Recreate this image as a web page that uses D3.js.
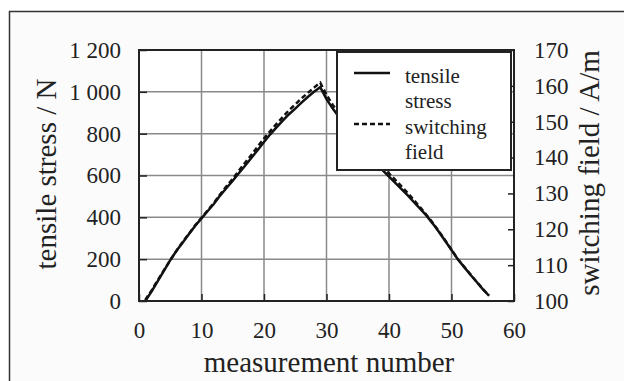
<!DOCTYPE html>
<html>
<head>
<meta charset="utf-8">
<script src="https://cdn.jsdelivr.net/npm/d3@7"></script>
<style>
  html, body { margin: 0; padding: 0; background: #ffffff; }
  svg { display: block; }
  text { font-family: "Liberation Serif", "Times New Roman", serif; fill: #222; }
</style>
</head>
<body>
<svg id="chart" width="624" height="381"></svg>
<script>
// measurement number 1..56
const measurement = d3.range(1, 57);

// tensile stress / N (left axis)
const tensileStress = [
  0, 45, 95, 145, 195, 240, 280, 320, 360, 395,
  430, 465, 505, 540, 575, 612, 648, 685, 722, 760,
  797, 830, 862, 893, 920, 948, 975, 1000, 1022, 965,
  920, 880, 842, 805, 768, 730, 695, 658, 625, 595,
  565, 535, 505, 472, 440, 408, 370, 330, 287, 244,
  200, 163, 127, 92, 57, 25
];

// switching field / A/m (right axis)
const switchingField = [
  100.3, 102.9, 105.8, 108.6, 111.4, 114.0, 116.5, 118.8, 121.1, 123.2,
  125.3, 127.4, 129.8, 132.0, 134.1, 136.4, 138.6, 140.8, 143.1, 145.3,
  147.4, 149.4, 151.3, 153.2, 154.8, 156.5, 158.0, 159.5, 160.9, 157.5,
  154.7, 152.3, 150.0, 147.8, 145.7, 143.5, 141.4, 139.3, 137.3, 135.6,
  133.8, 132.0, 130.1, 128.1, 126.1, 124.0, 121.8, 119.4, 116.9, 114.3,
  111.7, 109.6, 107.5, 105.4, 103.4, 101.5
];

const xTicks = [0, 10, 20, 30, 40, 50, 60];
const yLeftTicks = [0, 200, 400, 600, 800, 1000, 1200];
const yRightTicks = [100, 110, 120, 130, 140, 150, 160, 170];
const legendItems = [
  { lines: ["tensile", "stress"], dash: null },
  { lines: ["switching", "field"], dash: "5,3" }
];

const svg = d3.select("#chart");

const plot = { left: 139, right: 514, top: 50, bottom: 301 };

// outer figure frame (cropped on the right and bottom)
svg.append("rect")
  .attr("x", 9.5).attr("y", 11.5)
  .attr("width", 630).attr("height", 380)
  .attr("fill", "#fbfbfb")
  .attr("stroke", "#333")
  .attr("stroke-width", 1.5);

const x = d3.scaleLinear().domain([0, 60]).range([plot.left, plot.right]);
const yL = d3.scaleLinear().domain([0, 1200]).range([plot.bottom, plot.top]);
const yR = d3.scaleLinear().domain([100, 170]).range([plot.bottom, plot.top]);

svg.append("rect")
  .attr("x", plot.left).attr("y", plot.top)
  .attr("width", plot.right - plot.left)
  .attr("height", plot.bottom - plot.top)
  .attr("fill", "#ffffff");

// grid
const grid = svg.append("g")
  .attr("stroke", "#8a8a8a")
  .attr("stroke-width", 1.5);

grid.selectAll("line.v")
  .data(xTicks.slice(1, -1))
  .enter().append("line")
  .attr("x1", d => x(d)).attr("x2", d => x(d))
  .attr("y1", plot.top).attr("y2", plot.bottom);

grid.selectAll("line.h")
  .data(yLeftTicks.slice(1, -1))
  .enter().append("line")
  .attr("x1", plot.left).attr("x2", plot.right)
  .attr("y1", d => yL(d)).attr("y2", d => yL(d));

// axes with inward ticks
const fmt = d3.formatLocale({ decimal: ".", thousands: " ", grouping: [3], currency: ["", ""] }).format(",");

const styleAxis = g => {
  g.attr("font-family", null).attr("font-size", null);
  g.select(".domain").remove();
  g.selectAll(".tick line").attr("stroke", "#222").attr("stroke-width", 1.5);
  g.selectAll("text")
    .style("font-family", "'Liberation Serif', 'Times New Roman', serif")
    .style("font-size", "23px")
    .attr("fill", "#222");
};

svg.append("g")
  .attr("transform", `translate(${plot.left},0)`)
  .call(d3.axisLeft(yL).tickValues(yLeftTicks).tickFormat(fmt).tickSize(-8).tickPadding(18))
  .call(styleAxis);

svg.append("g")
  .attr("transform", `translate(${plot.right},0)`)
  .call(d3.axisRight(yR).tickValues(yRightTicks).tickSize(-6).tickPadding(20))
  .call(styleAxis);

svg.append("g")
  .attr("transform", `translate(0,${plot.bottom})`)
  .call(d3.axisBottom(x).tickValues(xTicks).tickSize(-7).tickPadding(21))
  .call(styleAxis);

// data lines
const lineL = d3.line()
  .x((d, i) => x(measurement[i]))
  .y(d => yL(d));

const lineR = d3.line()
  .x((d, i) => x(measurement[i]))
  .y(d => yR(d));

svg.append("path")
  .datum(switchingField)
  .attr("d", lineR)
  .attr("fill", "none")
  .attr("stroke", "#111")
  .attr("stroke-width", 2.5)
  .attr("stroke-dasharray", "5,3");

svg.append("path")
  .datum(tensileStress)
  .attr("d", lineL)
  .attr("fill", "none")
  .attr("stroke", "#111")
  .attr("stroke-width", 2.5);

// plot frame
svg.append("rect")
  .attr("x", plot.left).attr("y", plot.top)
  .attr("width", plot.right - plot.left)
  .attr("height", plot.bottom - plot.top)
  .attr("fill", "none")
  .attr("stroke", "#222")
  .attr("stroke-width", 2);

// axis titles
svg.append("text")
  .attr("text-anchor", "middle")
  .attr("x", 329).attr("y", 372)
  .style("font-size", "29px")
  .text("measurement number");

svg.append("text")
  .attr("text-anchor", "middle")
  .attr("transform", "translate(56,174) rotate(-90)")
  .style("font-size", "29px")
  .text("tensile stress / N");

svg.append("text")
  .attr("text-anchor", "middle")
  .attr("transform", "translate(599,173) rotate(-90)")
  .style("font-size", "29px")
  .text("switching field / A/m");

// legend
const legend = svg.append("g").attr("transform", "translate(337,52)");

legend.append("rect")
  .attr("width", 174).attr("height", 118)
  .attr("fill", "#ffffff")
  .attr("stroke", "#222")
  .attr("stroke-width", 2);

legendItems.forEach((item, i) => {
  const oy = i * 51;
  legend.append("line")
    .attr("x1", 17).attr("x2", 53)
    .attr("y1", 21 + oy).attr("y2", 21 + oy)
    .attr("stroke", "#111")
    .attr("stroke-width", 2.5)
    .attr("stroke-dasharray", item.dash);
  item.lines.forEach((t, j) => {
    legend.append("text")
      .attr("x", 68)
      .attr("y", 31 + oy + j * 24.5)
      .style("font-size", "21px")
      .text(t);
  });
});
</script>
</body>
</html>
